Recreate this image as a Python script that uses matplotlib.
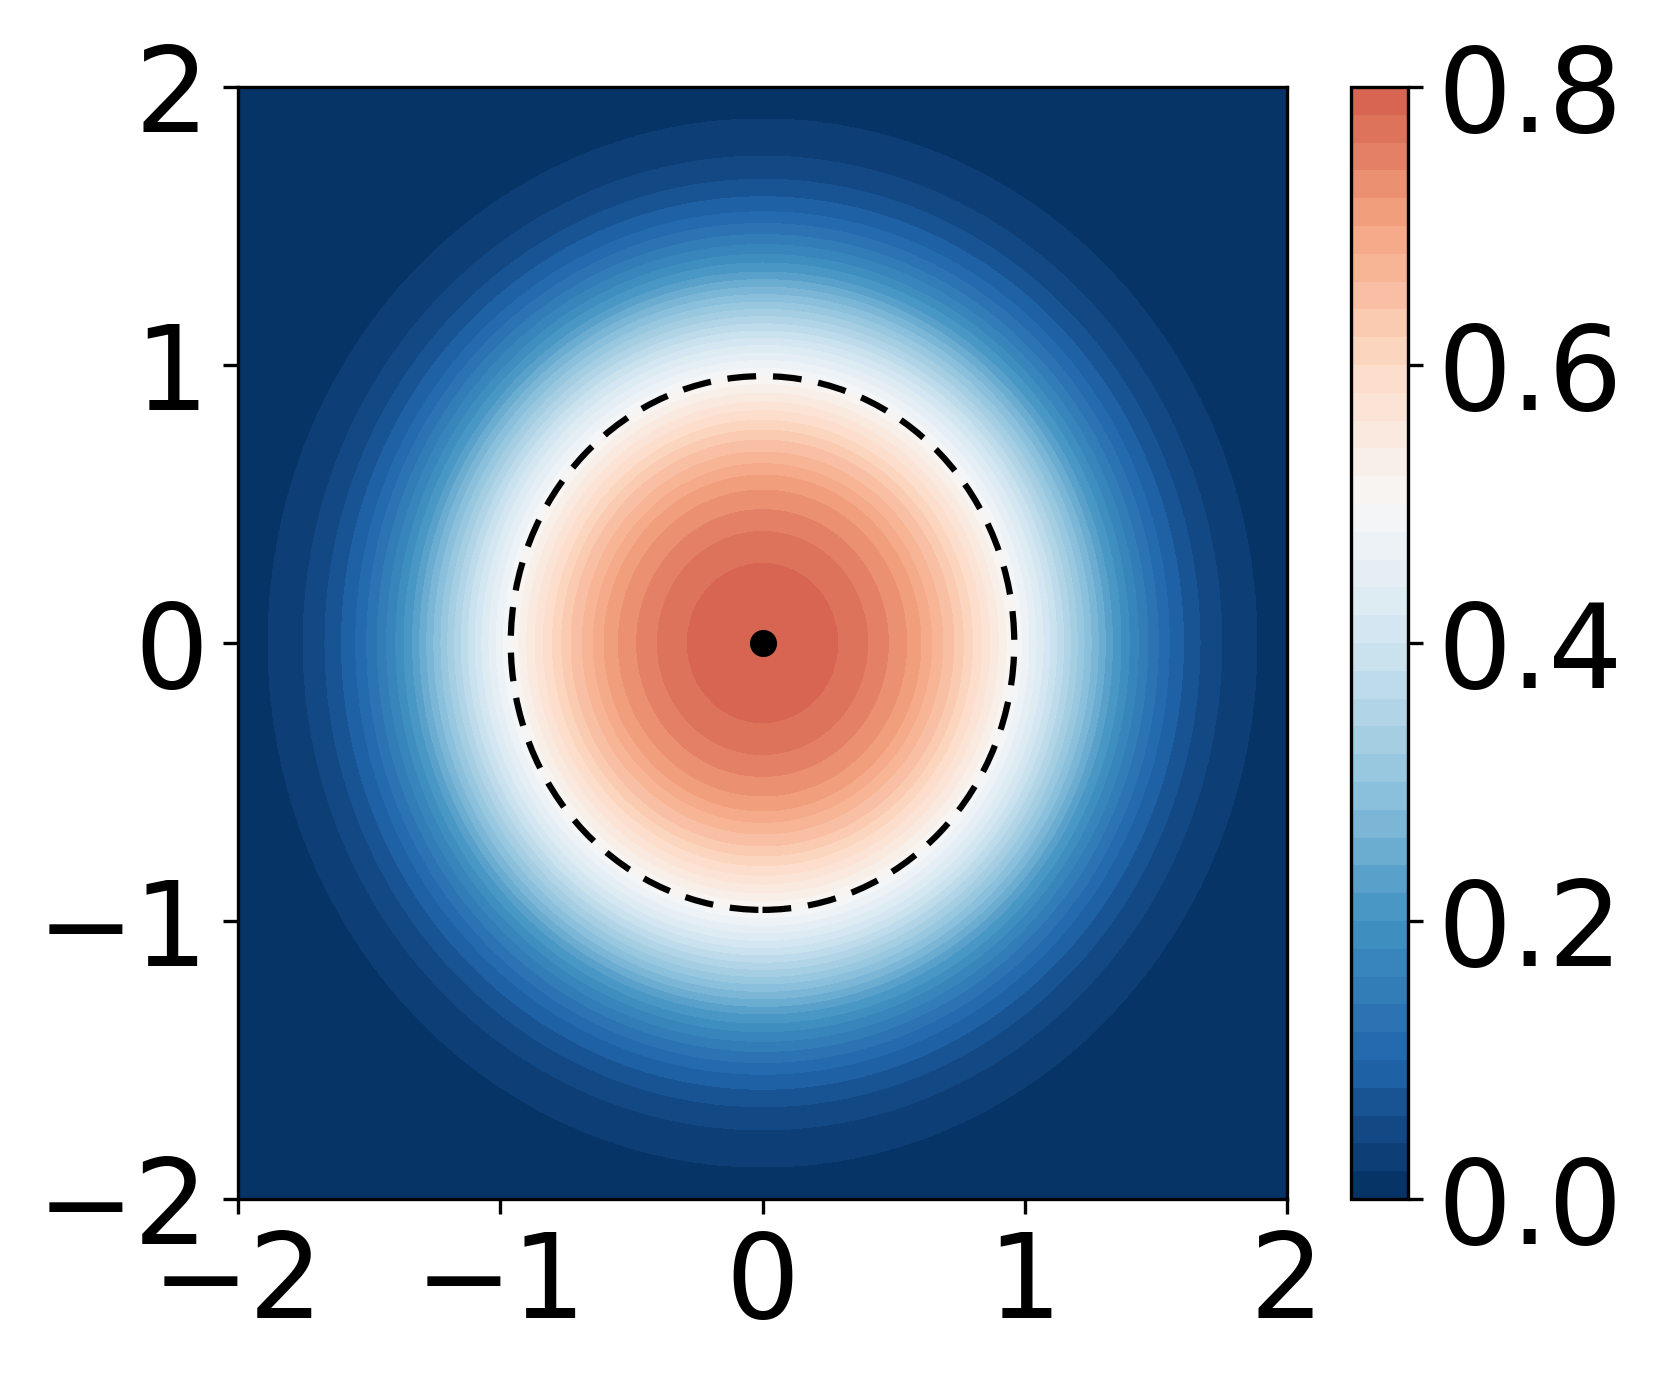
import numpy as np
import matplotlib
matplotlib.use("Agg")
import matplotlib.pyplot as plt
from matplotlib.colors import Normalize
from matplotlib.patches import Circle

# ---- data ----
# radial profile: value of the field at given distance from the centre
profile_r = [0.0, 0.287, 0.401, 0.480, 0.550, 0.604, 0.645, 0.687, 0.730, 0.766,
             0.801, 0.836, 0.867, 0.899, 0.929, 0.960, 0.988, 1.016, 1.043, 1.070,
             1.096, 1.122, 1.148, 1.174, 1.200, 1.226, 1.253, 1.280, 1.307, 1.334,
             1.367, 1.398, 1.433, 1.469, 1.509, 1.551, 1.605, 1.668, 1.751, 1.884,
             2.300, 3.000]
profile_f = [0.797, 0.78, 0.76, 0.74, 0.72, 0.70, 0.68, 0.66, 0.64, 0.62,
             0.60, 0.58, 0.56, 0.54, 0.52, 0.50, 0.48, 0.46, 0.44, 0.42,
             0.40, 0.38, 0.36, 0.34, 0.32, 0.30, 0.28, 0.26, 0.24, 0.22,
             0.20, 0.18, 0.16, 0.14, 0.12, 0.10, 0.08, 0.06, 0.04, 0.02,
             0.008, 0.002]
contour_levels = [0.00, 0.02, 0.04, 0.06, 0.08, 0.10, 0.12, 0.14, 0.16, 0.18,
                  0.20, 0.22, 0.24, 0.26, 0.28, 0.30, 0.32, 0.34, 0.36, 0.38,
                  0.40, 0.42, 0.44, 0.46, 0.48, 0.50, 0.52, 0.54, 0.56, 0.58,
                  0.60, 0.62, 0.64, 0.66, 0.68, 0.70, 0.72, 0.74, 0.76, 0.78, 0.80]
colorbar_ticks = [0.0, 0.2, 0.4, 0.6, 0.8]
axis_ticks = [-2, -1, 0, 1, 2]
circle_radius = 0.96
center_x = [0.0]
center_y = [0.0]

# ---- field ----
xs = np.linspace(-2, 2, 801)
ys = np.linspace(-2, 2, 801)
X, Y = np.meshgrid(xs, ys)
R = np.hypot(X, Y)
Z = np.interp(R, profile_r, profile_f)

fig = plt.figure(figsize=(1661 / 300, 1384 / 300), dpi=300)
ax = fig.add_axes([238 / 1661, 1 - 1199 / 1384, (1287 - 238) / 1661, (1199 - 87) / 1384])
cax = fig.add_axes([1351 / 1661, 1 - 1199 / 1384, (1408 - 1351) / 1661, (1199 - 87) / 1384])

cs = ax.contourf(X, Y, Z, levels=contour_levels, cmap="RdBu_r",
                 norm=Normalize(vmin=0.0, vmax=1.0))
ax.add_patch(Circle((center_x[0], center_y[0]), circle_radius, fill=False,
                    edgecolor="black", linewidth=1.5, linestyle=(0, (4.6, 2.7))))
ax.plot(center_x, center_y, "o", color="black", markersize=5.5)

ax.set_xlim(-2, 2)
ax.set_ylim(-2, 2)
ax.set_xticks(axis_ticks)
ax.set_yticks(axis_ticks)
ax.tick_params(labelsize=28)

cb = fig.colorbar(cs, cax=cax, ticks=colorbar_ticks)
cb.ax.tick_params(labelsize=28)
cb.ax.set_yticklabels([f"{t:.1f}" for t in colorbar_ticks])

fig.savefig("out.png", dpi=300)
